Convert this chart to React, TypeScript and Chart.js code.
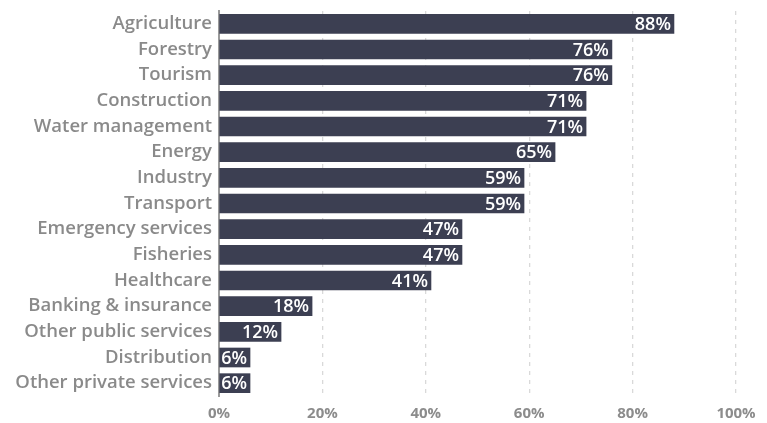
import React, { useEffect, useRef } from "react";
import { Chart, registerables } from "chart.js";

Chart.register(...registerables);

const categories = [
  "Agriculture",
  "Forestry",
  "Tourism",
  "Construction",
  "Water management",
  "Energy",
  "Industry",
  "Transport",
  "Emergency services",
  "Fisheries",
  "Healthcare",
  "Banking & insurance",
  "Other public services",
  "Distribution",
  "Other private services",
];
const values = [88, 76, 76, 71, 71, 65, 59, 59, 47, 47, 41, 18, 12, 6, 6];
const xTicks = [0, 20, 40, 60, 80, 100];

const FONT = "'Open Sans', 'DejaVu Sans', sans-serif";

const valueLabels = {
  id: "valueLabels",
  afterDatasetsDraw(chart: any) {
    const ctx = chart.ctx;
    const meta = chart.getDatasetMeta(0);
    ctx.save();
    ctx.font = `600 18px ${FONT}`;
    ctx.fillStyle = "#ffffff";
    ctx.textAlign = "right";
    ctx.textBaseline = "middle";
    meta.data.forEach((bar: any, i: number) => {
      ctx.fillText(values[i] + "%", bar.x - 3, bar.y + 1);
    });
    ctx.restore();
  },
};

export default function App() {
  const ref = useRef<HTMLCanvasElement>(null);
  useEffect(() => {
    const chart = new Chart(ref.current!, {
      type: "bar",
      data: {
        labels: categories,
        datasets: [
          {
            data: values,
            backgroundColor: "#3c3f52",
            barThickness: 19,
            borderWidth: 0,
          },
        ],
      },
      options: {
        indexAxis: "y",
        animation: false,
        responsive: false,
        maintainAspectRatio: false,
        layout: { padding: { top: 11, right: 31, bottom: 0, left: 0 } },
        plugins: { legend: { display: false }, tooltip: { enabled: false } },
        scales: {
          x: {
            min: 0,
            max: 100,
            afterBuildTicks(scale: any) {
              scale.ticks = xTicks.map((v) => ({ value: v }));
            },
            afterFit(scale: any) {
              scale.height = 27;
              scale.paddingLeft = 0;
              scale.paddingRight = 0;
            },
            border: { display: false, dash: [4, 5] },
            grid: {
              color: (c: any) => (c.tick && c.tick.value === 0 ? "rgba(0,0,0,0)" : "#d9d9d9"),
              lineWidth: 1.3,
              drawTicks: false,
            },
            ticks: {
              padding: 9,
              color: "#8c8c8c",
              font: { family: FONT, size: 15, weight: "bold" },
              callback: (v: any) => v + "%",
            },
          },
          y: {
            afterFit(scale: any) {
              scale.width = 219;
              scale.paddingTop = 0;
              scale.paddingBottom = 0;
            },
            border: { display: true, color: "#9a9a9a", width: 2 },
            grid: { display: false, drawTicks: false },
            ticks: {
              padding: 7,
              color: "#8a8a8a",
              font: { family: FONT, size: 18.5, weight: 600 },
            },
          },
        },
      },
      plugins: [valueLabels],
    });
    return () => chart.destroy();
  }, []);
  return (
    <div style={{ position: "fixed", left: 0, top: 0, width: 767, height: 423, background: "#fff" }}>
      <canvas ref={ref} width={767} height={423} style={{ width: 767, height: 423 }} />
    </div>
  );
}
